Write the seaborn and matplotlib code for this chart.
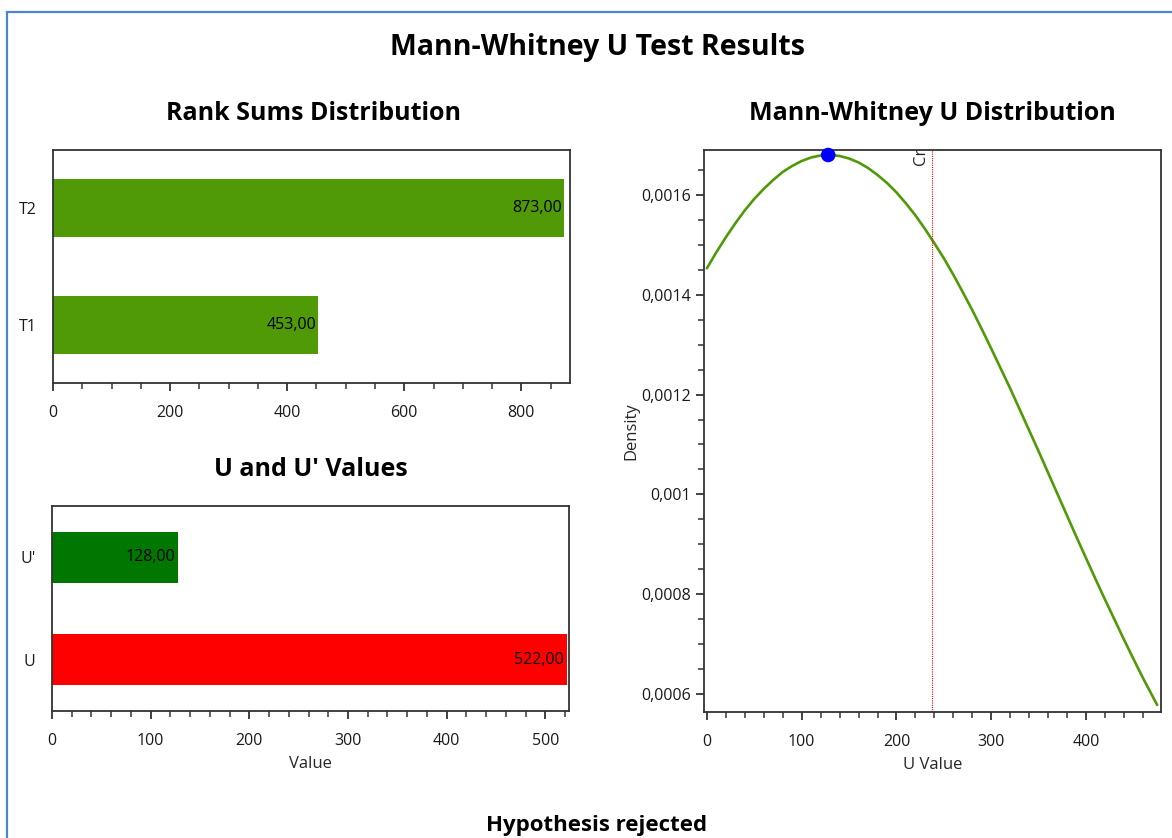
import seaborn as sns
import matplotlib.pyplot as plt
import matplotlib.ticker as mticker
from matplotlib.patches import Rectangle
import pandas as pd

# данные
rank_groups = ['T1', 'T2']
rank_sums = [453.0, 873.0]

u_names = ['U', "U'"]
u_values = [522.0, 128.0]

u_grid = [0, 10, 20, 30, 40, 50, 60, 70, 80, 90, 100, 110, 120, 130, 140,
          150, 160, 170, 180, 190, 200, 210, 220, 230, 240, 250, 260, 270,
          280, 290, 300, 310, 320, 330, 340, 350, 360, 370, 380, 390, 400,
          410, 420, 430, 440, 450, 460, 475]
density = [0.001453, 0.001485, 0.001515, 0.001543, 0.001569, 0.001592,
           0.001612, 0.001630, 0.001646, 0.001658, 0.001668, 0.001675,
           0.001679, 0.001680, 0.001678, 0.001673, 0.001665, 0.001654,
           0.001640, 0.001624, 0.001605, 0.001583, 0.001559, 0.001532,
           0.001503, 0.001473, 0.001440, 0.001405, 0.001369, 0.001331,
           0.001292, 0.001252, 0.001212, 0.001170, 0.001128, 0.001086,
           0.001043, 0.001000, 0.000957, 0.000914, 0.000872, 0.000830,
           0.000789, 0.000749, 0.000709, 0.000670, 0.000632, 0.000578]

u_observed = 128.0
peak_density = 0.00168
u_critical = 237.5

sns.set_style('white')
plt.rcParams['font.family'] = ['Open Sans', 'DejaVu Sans']

W, H = 1172, 838
fig = plt.figure(figsize=(W / 100, H / 100), dpi=100)

TICK_FS = 11.5
LABEL_FS = 12


def px_axes(l, t, r, b):
  return fig.add_axes([l / W, 1 - b / H, (r - l) / W, (b - t) / H])


def comma(fmt):
  return mticker.FuncFormatter(lambda v, p: fmt.format(v).replace('.', ','))


def style_box(ax):
  for s in ax.spines.values():
    s.set_visible(True)
    s.set_color('#333333')
    s.set_linewidth(1.3)
  ax.tick_params(which='both', colors='#333333', labelcolor='#1a1a1a',
                 labelsize=TICK_FS)
  ax.tick_params(axis='x', which='major', pad=10)


def bar_panel(ax, names, values, order, colors, xmax, major, minor):
  df = pd.DataFrame({'name': names, 'value': values})
  sns.barplot(data=df, x='value', y='name', hue='name', order=order,
              palette=colors, width=0.5, legend=False, ax=ax,
              saturation=1, edgecolor='none')
  for i, name in enumerate(order):
    v = values[names.index(name)]
    ax.text(v - 3, i, f'{v:.2f}'.replace('.', ','), ha='right',
            va='center', fontsize=11.5, color='black')
  ax.set_xlim(0, xmax)
  ax.set_ylim(len(order) - 0.5, -0.5)
  ax.set_yticks([-0.5, 0.5, 1.5])
  ax.set_yticklabels([])
  ax.set_yticks(range(len(order)), order, minor=True)
  ax.tick_params(axis='y', which='major', length=7, width=1.3, direction='out')
  ax.xaxis.set_major_locator(mticker.MultipleLocator(major))
  ax.xaxis.set_minor_locator(mticker.MultipleLocator(minor))
  ax.tick_params(axis='x', which='major', length=6, width=1.3, bottom=True)
  ax.tick_params(axis='x', which='minor', length=4, width=1.1, bottom=True)
  ax.set_ylabel('')
  style_box(ax)
  ax.tick_params(axis='y', which='minor', length=0, pad=12)


# рамка окна
fig.add_artist(Rectangle((7 / W, -0.1), 1.2, 1 - 12 / H + 0.1,
                         transform=fig.transFigure, fill=False,
                         edgecolor='#4a86c8', linewidth=1.6))

fig.text(597 / W, 1 - 47 / H, 'Mann-Whitney U Test Results', ha='center',
         va='center', fontsize=20.5, fontweight='bold', color='black')
fig.text(597 / W, 1 - 825 / H, 'Hypothesis rejected', ha='center',
         va='center', fontsize=16, fontweight='bold', color='black')

# суммы рангов
ax1 = px_axes(53, 150, 570, 383)
bar_panel(ax1, rank_groups, rank_sums, ['T2', 'T1'],
          {'T1': '#4f9a06', 'T2': '#4f9a06'}, 883, 200, 50)
ax1.set_xlabel('')
fig.text(313 / W, 1 - 113 / H, 'Rank Sums Distribution', ha='center',
         va='center', fontsize=18, fontweight='bold', color='black')

# U и U'
ax2 = px_axes(52, 506, 569, 711)
bar_panel(ax2, u_names, u_values, ["U'", 'U'],
          {'U': '#ff0000', "U'": '#007800'}, 524, 100, 20)
ax2.set_xlabel('Value', fontsize=LABEL_FS, labelpad=5)
fig.text(311 / W, 1 - 469 / H, "U and U' Values", ha='center',
         va='center', fontsize=18, fontweight='bold', color='black')

# распределение U
ax3 = px_axes(704, 150, 1161, 712)
sns.lineplot(x=u_grid, y=density, color='#4f9a06', linewidth=1.9, ax=ax3)
ax3.axvline(u_critical, color='red', linewidth=0.8, linestyle=(0, (1, 1)))
ax3.text(u_critical - 3, 0.973, 'Cr', rotation=90, ha='right',
         va='bottom', fontsize=LABEL_FS, transform=ax3.get_xaxis_transform(),
         clip_on=True)
sns.scatterplot(x=[u_observed], y=[peak_density], color='#0000ff', s=110,
                edgecolor='none', zorder=5, clip_on=False, ax=ax3)
ax3.set_xlim(-3, 479)
ax3.set_ylim(0.000564, 0.00169)
ax3.xaxis.set_major_locator(mticker.MultipleLocator(100))
ax3.xaxis.set_minor_locator(mticker.MultipleLocator(20))
ax3.yaxis.set_major_locator(mticker.MultipleLocator(0.0002))
ax3.yaxis.set_minor_locator(mticker.MultipleLocator(0.00005))
ax3.yaxis.set_major_formatter(comma('{:g}'))
ax3.tick_params(axis='both', which='major', length=6, width=1.3,
                bottom=True, left=True)
ax3.tick_params(axis='both', which='minor', length=4, width=1.1,
                bottom=True, left=True)
ax3.set_xlabel('U Value', fontsize=LABEL_FS, labelpad=5)
ax3.set_ylabel('Density', fontsize=LABEL_FS, labelpad=1)
style_box(ax3)
fig.text(932 / W, 1 - 113 / H, 'Mann-Whitney U Distribution', ha='center',
         va='center', fontsize=18, fontweight='bold', color='black')

fig.savefig('out.png', dpi=100)
